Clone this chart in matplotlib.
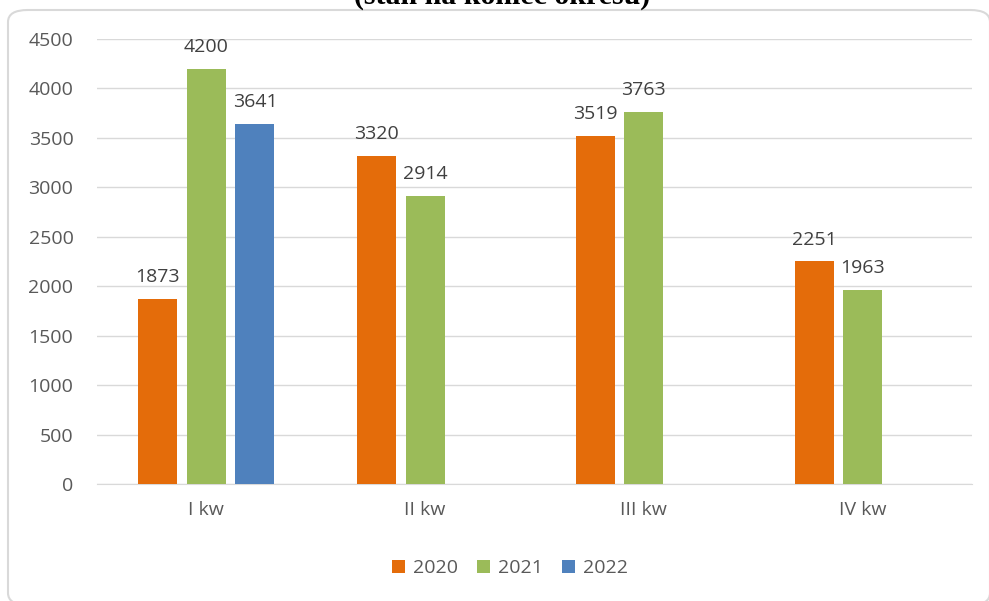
import numpy as np
import matplotlib.pyplot as plt
from matplotlib.patches import FancyBboxPatch

# data
quarters = ["I kw", "II kw", "III kw", "IV kw"]
years = ["2020", "2021", "2022"]
v2020 = [1873, 3320, 3519, 2251]
v2021 = [4200, 2914, 3763, 1963]
v2022 = [3641, None, None, None]

colors = ["#E46C0A", "#9BBB59", "#4F81BD"]
label_color = "#595959"
fs = 14

plt.rcParams["font.family"] = ["Open Sans", "DejaVu Sans"]

fig = plt.figure(figsize=(9.89, 6.01), dpi=100)

# rounded border of the chart area
fig.patches.append(FancyBboxPatch((8 / 989, (601 - 605) / 601), 982 / 989, 595 / 601,
                                  boxstyle="round,pad=0,rounding_size=0.02",
                                  transform=fig.transFigure, facecolor="white",
                                  edgecolor="#d9d9d9", lw=1.5, zorder=-5))

# title, cut off at the top edge (as in the source)
fig.text(0.508, 1.0 - 4 / 601, "(stan na koniec okresu)", ha="center", va="baseline",
         family="Liberation Serif", fontweight="bold", fontsize=21.5, color="black")

ax = fig.add_axes([97 / 989, 1 - 484 / 601, 875 / 989, 445 / 601])
ax.set_facecolor("none")
ax.set_zorder(2)

x = np.arange(len(quarters))
width = 0.178
offset = 0.222

for i, (year, vals) in enumerate(zip(years, [v2020, v2021, v2022])):
    for j, v in enumerate(vals):
        if v is None:
            continue
        xpos = x[j] + (i - 1) * offset
        ax.bar(xpos, v, width, color=colors[i], zorder=3,
               label=year if j == 0 else None)
        ax.text(xpos, v + 170, str(v), ha="center", va="baseline",
                fontsize=fs, color="#404040", zorder=4)

ax.set_xlim(-0.5, len(quarters) - 0.5)
ax.set_ylim(0, 4500)
ax.set_yticks(range(0, 4501, 500))
ax.set_xticks(x)
ax.set_xticklabels(quarters)
ax.tick_params(axis="both", length=0, labelsize=fs, labelcolor=label_color)
ax.tick_params(axis="y", pad=17)
ax.tick_params(axis="x", pad=12)
ax.grid(axis="y", color="#d9d9d9", lw=1, zorder=0)
for s in ["top", "right", "left"]:
    ax.spines[s].set_visible(False)
ax.spines["bottom"].set_color("#d9d9d9")

ax.legend(loc="center", bbox_to_anchor=(510 / 989, 1 - 568 / 601),
          bbox_transform=fig.transFigure, ncol=3, frameon=False,
          fontsize=fs, labelcolor=label_color, handlelength=0.65,
          handleheight=0.65, handletextpad=0.4, columnspacing=1.0)

fig.savefig("out.png", dpi=100)
